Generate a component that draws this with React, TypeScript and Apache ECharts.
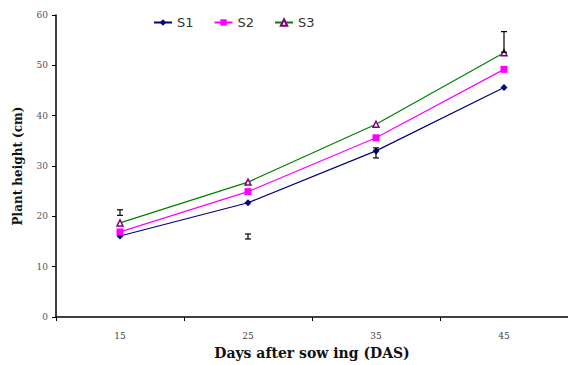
import React, { useEffect, useRef } from "react";
import * as echarts from "echarts";

const categories = ["15", "25", "35", "45"];
const s1 = [16.1, 22.7, 33.0, 45.6];
const s2 = [16.9, 24.9, 35.6, 49.2];
const s3 = [18.7, 26.8, 38.3, 52.5];
// error bars: [categoryIndex, low, high]
const errorBars: [number, number, number][] = [
  [0, 20.2, 21.3],
  [1, 15.5, 16.5],
  [2, 31.6, 33.6],
  [3, 52.6, 56.7],
];

export default function App() {
  const ref = useRef<HTMLDivElement>(null);
  useEffect(() => {
    const chart = echarts.init(ref.current!, null, { renderer: "svg" });
    const serif = "'DejaVu Serif', 'Liberation Serif', serif";
    chart.setOption({
      animation: false,
      backgroundColor: "#fff",
      grid: { left: 56, top: 15, right: -2, bottom: 46 },
      legend: {
        left: 148,
        top: 11,
        itemWidth: 18,
        itemHeight: 8,
        itemGap: 20,
        textStyle: { fontFamily: "'DejaVu Sans', sans-serif", fontSize: 13, color: "#333" },
        data: ["S1", "S2", "S3"],
      },
      xAxis: {
        type: "category",
        data: categories,
        boundaryGap: true,
        name: "Days after sow ing (DAS)",
        nameLocation: "middle",
        nameGap: 29,
        nameTextStyle: { fontFamily: serif, fontSize: 14, fontWeight: "bold", color: "#111" },
        axisLine: { lineStyle: { color: "#000", width: 1.5 } },
        axisTick: { show: true, length: 4, lineStyle: { color: "#000" } },
        axisLabel: { fontFamily: serif, fontSize: 9, color: "#444", margin: 14 },
      },
      yAxis: {
        type: "value",
        min: 0,
        max: 60,
        interval: 10,
        name: "Plant height (cm)",
        nameLocation: "middle",
        nameGap: 32,
        nameRotate: 90,
        nameTextStyle: { fontFamily: serif, fontSize: 12, fontWeight: "bold", color: "#111" },
        axisLine: { show: true, lineStyle: { color: "#000", width: 1.5 } },
        axisTick: { show: true, length: 4, lineStyle: { color: "#000" } },
        axisLabel: { fontFamily: serif, fontSize: 9, color: "#555", margin: 8 },
        splitLine: { show: false },
      },
      series: [
        {
          name: "S1",
          type: "line",
          data: s1,
          symbol: "diamond",
          symbolSize: 7,
          lineStyle: { color: "#000080", width: 1.2 },
          itemStyle: { color: "#000080" },
        },
        {
          name: "S2",
          type: "line",
          data: s2,
          symbol: "rect",
          symbolSize: 7,
          lineStyle: { color: "#ff00ff", width: 1.2 },
          itemStyle: { color: "#ff00ff" },
        },
        {
          name: "S3",
          type: "line",
          data: s3,
          symbol: "triangle",
          symbolSize: 6,
          lineStyle: { color: "#008000", width: 1.2 },
          itemStyle: { color: "#fff", borderColor: "#800080", borderWidth: 1.5 },
        },
        {
          type: "custom",
          name: "err",
          data: errorBars,
          z: 10,
          renderItem: (params: any, api: any) => {
            const x = api.value(0);
            const lo = api.coord([x, api.value(1)]);
            const hi = api.coord([x, api.value(2)]);
            const w = 3;
            const style = { stroke: "#000", lineWidth: 1.2 };
            return {
              type: "group",
              children: [
                { type: "line", shape: { x1: lo[0], y1: lo[1], x2: hi[0], y2: hi[1] }, style },
                { type: "line", shape: { x1: lo[0] - w, y1: lo[1], x2: lo[0] + w, y2: lo[1] }, style },
                { type: "line", shape: { x1: hi[0] - w, y1: hi[1], x2: hi[0] + w, y2: hi[1] }, style },
              ],
            };
          },
        },
      ],
    });
    return () => chart.dispose();
  }, []);
  return <div ref={ref} style={{ width: 568, height: 365, position: "absolute", left: 0, top: 0 }} />;
}
